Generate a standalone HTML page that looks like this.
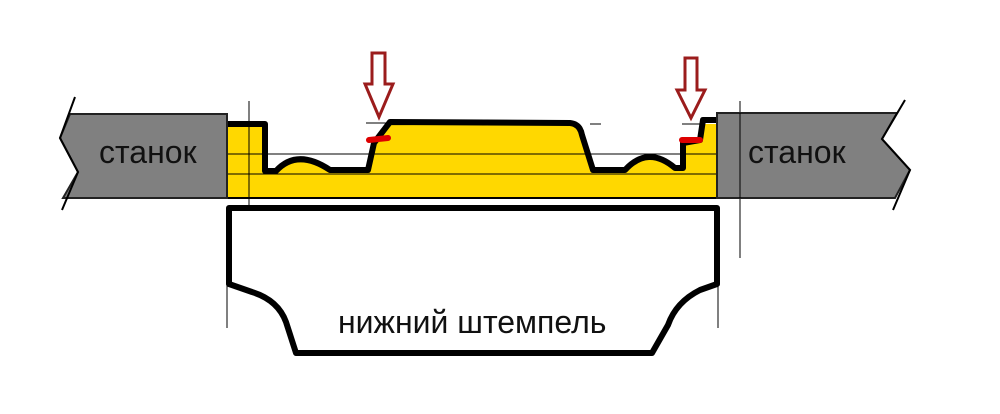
<!DOCTYPE html>
<html><head><style>body{margin:0;background:#fff}svg{display:block}</style></head><body>
<svg width="1000" height="414" viewBox="0 0 1000 414" xmlns="http://www.w3.org/2000/svg" font-family="Liberation Sans, sans-serif">
<rect x="228" y="124" width="489" height="74" fill="#ffd800"/>
<path d="M265,124 L265,171 L276,171 Q297,148 330,170 L368,170 L374,143 L390,122 L570,123 Q580,124 582,135 L593,170 L625,170 Q648,145 675,168 L683,168 L683,143 L700,140 L703,120 L703,100 L265,100 Z" fill="#fff"/>
<g stroke="#000" stroke-width="1" fill="none">
<line x1="228" y1="154" x2="717" y2="154"/>
<line x1="228" y1="174" x2="717" y2="174"/>
<line x1="366" y1="123" x2="390" y2="123"/>
<line x1="590" y1="124" x2="601" y2="124"/>
<line x1="682" y1="124" x2="700" y2="124"/>
<line x1="249" y1="101" x2="249" y2="258"/>
<line x1="740" y1="101" x2="740" y2="258"/>
<line x1="227" y1="250" x2="227" y2="328"/>
<line x1="718" y1="250" x2="718" y2="328"/>
</g>
<path d="M228,124 L265,124 L265,171 L276,171 Q297,148 330,170 L368,170 L374,143 L390,122 L570,123 Q580,124 582,135 L593,170 L625,170 Q648,145 675,168 L683,168 L683,143 L700,140 L703,120 L717,120" fill="none" stroke="#000" stroke-width="6" stroke-linejoin="round"/>
<line x1="228" y1="198" x2="717" y2="198" stroke="#000" stroke-width="2"/>
<path d="M369,140 L388,138" stroke="#d00" stroke-width="6" stroke-linecap="round"/>
<path d="M682,140 L700,140" stroke="#d00" stroke-width="6" stroke-linecap="round"/>
<path d="M70,114 L227,114 L227,198 L63,198 L78,172 L60,138 Z" fill="#808080" stroke="#222" stroke-width="2"/>
<path d="M75,97 L60,138 L78,172 L62,210" fill="none" stroke="#000" stroke-width="2"/>
<text x="99" y="163" font-size="32" fill="#111">станок</text>
<path d="M717,113 L897,113 L882,139 L910,170 L895,198 L717,198 Z" fill="#808080" stroke="#222" stroke-width="2"/>
<path d="M905,100 L882,139 L910,170 L893,210" fill="none" stroke="#000" stroke-width="2"/>
<line x1="740" y1="113" x2="740" y2="198" stroke="#000" stroke-width="1"/>
<text x="748" y="163" font-size="32" fill="#111">станок</text>
<path d="M229,208 L717,208 L717,284 L700,290 Q676,302 668,325 L652,353 L296,353 L286,322 Q278,300 252,292 L229,284 Z" fill="#fff" stroke="#000" stroke-width="6" stroke-linejoin="round"/>
<text x="338" y="333" font-size="32" fill="#111">нижний штемпель</text>
<path d="M372,53 L385,53 L385,84 L393,84 L379,117 L365,84 L372,84 Z" fill="#fff" stroke="#9b1c1c" stroke-width="3"/>
<path d="M685,58 L697,58 L697,90 L705,90 L691,118 L677,90 L685,90 Z" fill="#fff" stroke="#9b1c1c" stroke-width="3"/>
</svg>
</body></html>
